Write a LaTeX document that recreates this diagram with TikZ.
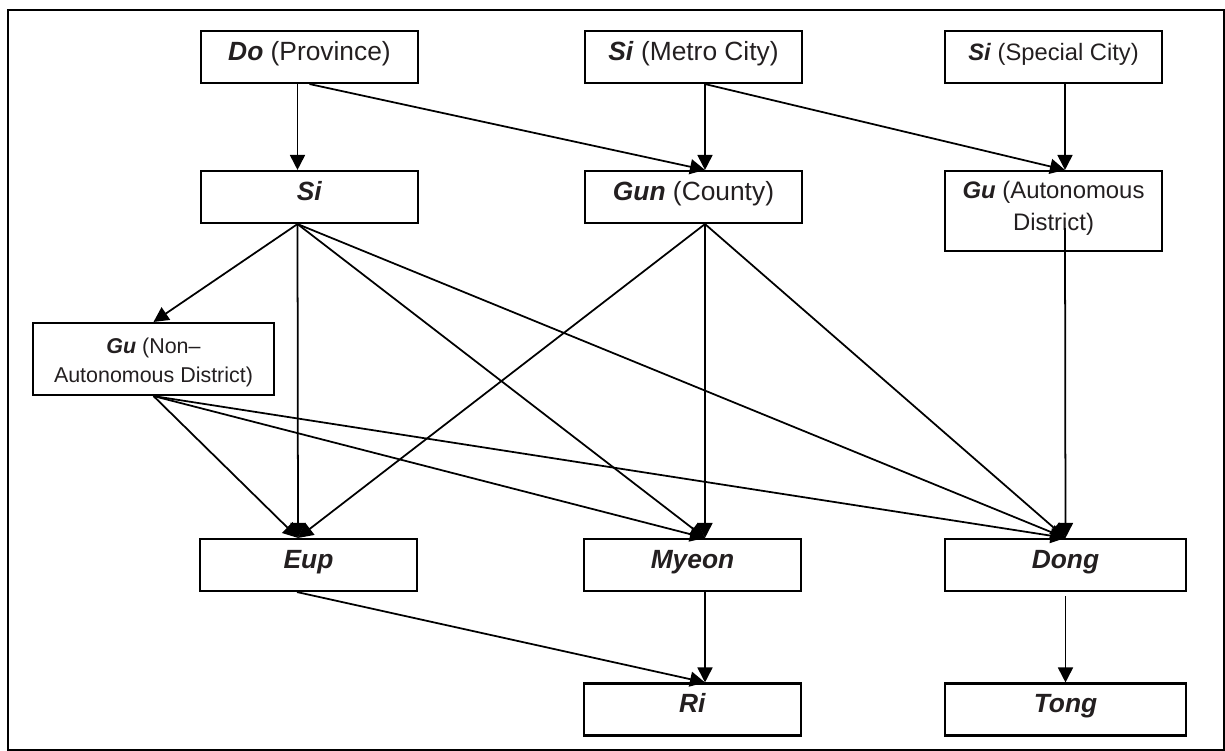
\documentclass[tikz,border=0pt]{standalone}
\usepackage{fontspec}
\setmainfont{Liberation Sans}
\usetikzlibrary{arrows.meta}
\definecolor{inkgray}{RGB}{35,31,32}
\tikzset{
  unit/.style={draw=black, line width=1.2pt, text=inkgray, inner sep=0pt,
    minimum width=4.34cm, text height=0.58cm, text depth=0.46cm,
    font=\fontsize{15}{17}\selectfont},
  wide/.style={minimum width=4.82cm},
  link/.style={line width=1pt, -{Triangle[length=0.3cm,width=0.3cm]}}
}

\begin{document}
\begin{tikzpicture}[x=0.02cm, y=-0.02cm]
  \useasboundingbox (0,0) rectangle (1225,751);
  % frame
  \draw[line width=1.2pt] (8,10) rectangle (1224,750);

  % --- Top level ---
  \node[unit] (do) at (309.5,57) {\textbf{\textit{Do}} (Province)};
  \node[unit] (metro) at (693.5,57) {\textbf{\textit{Si}} (Metro City)};
  \node[unit, font=\fontsize{13.5}{16}\selectfont] (special) at (1053.5,57) {\textbf{\textit{Si}} (Special City)};

  % --- Second level ---
  \node[unit] (si) at (309.5,197) {\textbf{\textit{Si}}};
  \node[unit] (gun) at (693.5,197) {\textbf{\textit{Gun}} (County)};
  \node[unit, align=center, font=\fontsize{13.6}{18}\selectfont,
    text height=1.18cm, text depth=0.42cm] (gua) at (1053.5,211)
    {\textbf{\textit{Gu}} (Autonomous\\District)};
  \node[unit, wide, align=center, font=\fontsize{12.2}{16.4}\selectfont,
    text height=1.18cm, text depth=0.26cm] (gunon) at (153.5,359)
    {\textbf{\textit{Gu}} (Non--\\Autonomous District)};

  % --- Lower levels ---
  \node[unit] (eup) at (308.5,565) {\textbf{\textit{Eup}}};
  \node[unit] (myeon) at (692.5,565) {\textbf{\textit{Myeon}}};
  \node[unit, wide] (dong) at (1065.5,565) {\textbf{\textit{Dong}}};
  \node[unit] (ri) at (692.5,709.5) {\textbf{\textit{Ri}}};
  \node[unit, wide] (tong) at (1065.5,709.5) {\textbf{\textit{Tong}}};

  % top -> second level
  \draw[link] ([xshift=-0.24cm]do.south) -- ([xshift=-0.24cm]si.north);
  \draw[link] (do.south) -- ([xshift=0.23cm]gun.north);
  \draw[link] ([xshift=0.23cm]metro.south) -- ([xshift=0.23cm]gun.north);
  \draw[link] ([xshift=0.23cm]metro.south) -- ([xshift=0.23cm]gua.north);
  \draw[link] ([xshift=0.23cm]special.south) -- ([xshift=0.23cm]gua.north);

  % from Si
  \draw[link] ([xshift=-0.24cm]si.south) -- (gunon.north);
  \draw[link] ([xshift=-0.24cm]si.south) -- ([xshift=-0.21cm]eup.north);
  \draw[link] ([xshift=-0.24cm]si.south) -- ([xshift=0.25cm]myeon.north);
  \draw[link] ([xshift=-0.24cm]si.south) -- (dong.north);

  % from Gu (non-autonomous)
  \draw[link] (gunon.south) -- ([xshift=-0.21cm]eup.north);
  \draw[link] (gunon.south) -- ([xshift=0.25cm]myeon.north);
  \draw[link] (gunon.south) -- (dong.north);

  % from Gun
  \draw[link] ([xshift=0.23cm]gun.south) -- ([xshift=-0.21cm]eup.north);
  \draw[link] ([xshift=0.23cm]gun.south) -- ([xshift=0.25cm]myeon.north);
  \draw[link] ([xshift=0.23cm]gun.south) -- (dong.north);

  % from Gu (autonomous), line starts inside the box
  \draw[link] ([xshift=0.23cm,yshift=0.48cm]gua.south) -- (dong.north);

  % bottom level
  \draw[link] ([xshift=-0.23cm]eup.south) -- ([xshift=0.25cm]ri.north);
  \draw[link] ([xshift=0.25cm]myeon.south) -- ([xshift=0.25cm]ri.north);
  \draw[link] ([yshift=-0.08cm]dong.south) -- (tong.north);
\end{tikzpicture}
\end{document}
